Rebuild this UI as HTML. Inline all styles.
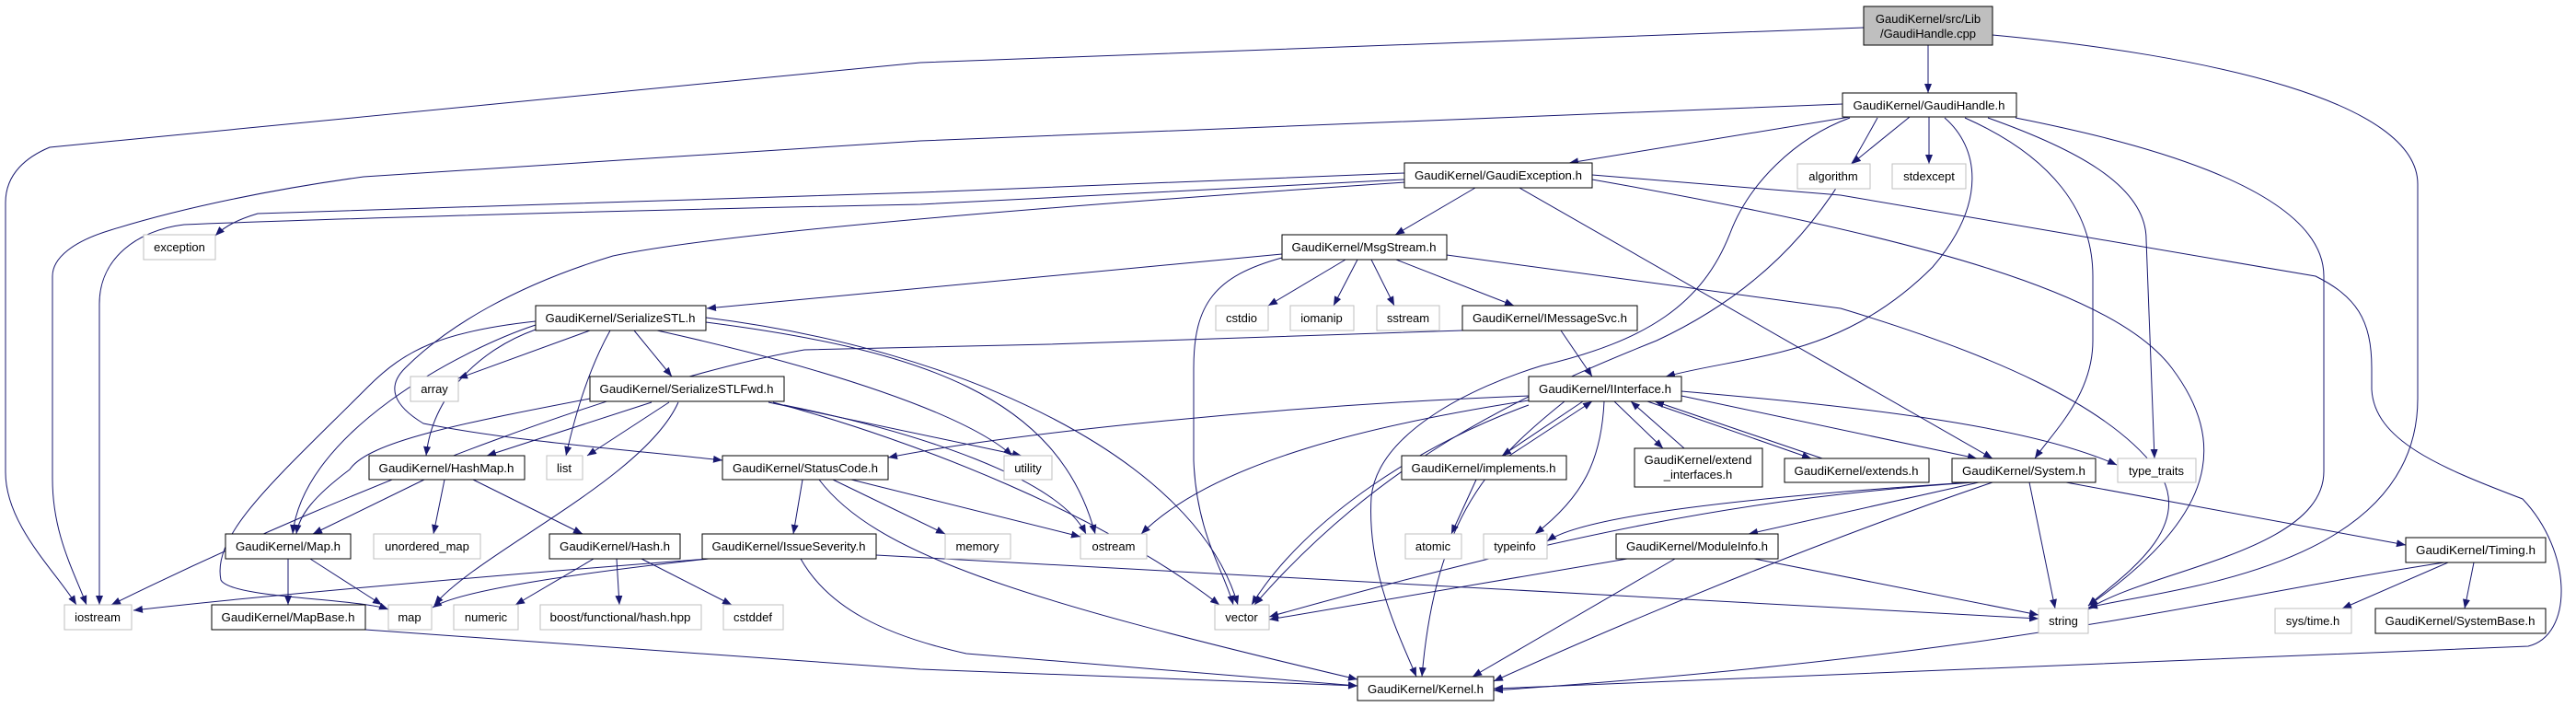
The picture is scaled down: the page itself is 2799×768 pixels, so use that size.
<!DOCTYPE html>
<html><head><meta charset="utf-8"><style>
html,body{margin:0;padding:0;background:#fff;}
svg{display:block;}
text{font-family:"Liberation Sans",Arial,sans-serif;font-size:13px;fill:#000;}
.e{fill:none;stroke:#191970;stroke-width:1;marker-end:url(#a);}
.n{fill:#fff;stroke:#000;stroke-width:1;}
.g{fill:#fff;stroke:#bfbfbf;stroke-width:1;}
</style></head><body>
<svg width="2799" height="768" viewBox="0 0 2799 768" xmlns="http://www.w3.org/2000/svg">
<defs><marker id="a" markerUnits="userSpaceOnUse" markerWidth="11" markerHeight="9" refX="10" refY="4" orient="auto"><path d="M0,0 L10,4 L0,8 z" fill="#191970"/></marker></defs>
<g>
<path class="e" d="M2095,49 L2095,101"/>
<path class="e" d="M2025,30 L1000,68 L54,160 C30,170 6,188 6,220 L6,513 C6,570 60,620 83,657"/>
<path class="e" d="M2165,38 C2400,60 2627,110 2627,200 L2627,433 C2627,620 2350,640 2269,660"/>
<path class="e" d="M2010,127 L1705,177"/>
<path class="e" d="M2002,113 L1000,153 L395,192 C300,205 200,225 120,250 C80,262 57,280 57,300 L57,520 C57,580 80,620 94,657"/>
<path class="e" d="M2075,127 L2012,178"/>
<path class="e" d="M2096,127 L2096,178"/>
<path class="e" d="M2113,128 C2150,160 2160,220 2100,290 C2000,390 1900,385 1810,409"/>
<path class="e" d="M2135,128 C2230,170 2274,230 2274,300 L2274,370 C2274,430 2230,470 2211,498"/>
<path class="e" d="M2160,128 C2250,160 2332,200 2332,260 L2341,498"/>
<path class="e" d="M2190,128 C2300,150 2525,200 2525,300 L2525,512 C2525,600 2330,620 2269,662"/>
<path class="e" d="M2010,128 C1950,150 1900,200 1880,253 C1850,330 1790,370 1676,397 C1600,420 1497,470 1490,540 C1485,620 1520,690 1539,735"/>
<path class="e" d="M2040,128 C2000,200 1950,300 1800,370 C1650,430 1500,500 1363,657"/>
<path class="e" d="M1603,204 L1516,255"/>
<path class="e" d="M1526,188 L1000,209 L280,232 C260,238 245,245 234,256"/>
<path class="e" d="M1526,195 L1000,222 C600,230 300,240 200,244 C150,250 108,280 108,330 L108,657"/>
<path class="e" d="M1526,198 C1200,220 800,250 666,278 C560,310 485,355 440,400 C420,420 427,440 460,460 C560,480 700,490 785,500"/>
<path class="e" d="M1651,204 L2165,498"/>
<path class="e" d="M1730,195 C2100,260 2300,320 2360,400 C2420,480 2410,560 2269,658"/>
<path class="e" d="M1730,190 L2000,212 L2516,300 C2560,322 2577,347 2577,400 L2577,423 C2580,478 2649,507 2741,542 C2796,600 2796,690 2747,702 L1623,748"/>
<path class="e" d="M1393,276 L768,335"/>
<path class="e" d="M1462,282 L1378,332"/>
<path class="e" d="M1475,282 L1449,332"/>
<path class="e" d="M1490,282 L1515,332"/>
<path class="e" d="M1517,282 L1645,332"/>
<path class="e" d="M1393,280 C1320,300 1297,330 1297,400 L1297,500 C1300,580 1330,620 1340,657"/>
<path class="e" d="M1572,277 L2000,335 C2150,380 2300,440 2350,520 C2380,580 2300,630 2269,658"/>
<path class="e" d="M1696,359 L1730,409"/>
<path class="e" d="M1589,359 L1140,374 L874,380 C700,410 400,520 121,657"/>
<path class="e" d="M641,359 L498,411"/>
<path class="e" d="M663,359 C640,400 625,450 615,495"/>
<path class="e" d="M689,359 L730,409"/>
<path class="e" d="M714,359 C900,400 1050,450 1100,495"/>
<path class="e" d="M767,350 C1000,380 1150,430 1190,580"/>
<path class="e" d="M767,345 C1050,380 1300,500 1345,657"/>
<path class="e" d="M582,358 C520,380 470,430 463,495"/>
<path class="e" d="M582,353 C500,380 330,470 318,580"/>
<path class="e" d="M582,349 C480,360 440,380 400,420 C300,520 230,580 240,630 C250,650 390,650 422,662"/>
<path class="e" d="M708,437 L529,495"/>
<path class="e" d="M727,437 L638,495"/>
<path class="e" d="M737,437 C700,520 520,600 472,657"/>
<path class="e" d="M641,433 C500,460 400,480 380,510 C340,540 325,560 322,580"/>
<path class="e" d="M835,437 L1110,495"/>
<path class="e" d="M852,440 C1000,470 1150,520 1180,580"/>
<path class="e" d="M840,437 C1000,480 1200,560 1325,657"/>
<path class="e" d="M461,521 L340,580"/>
<path class="e" d="M483,521 L471,580"/>
<path class="e" d="M514,521 L633,580"/>
<path class="e" d="M313,607 L313,657"/>
<path class="e" d="M337,607 L415,657"/>
<path class="e" d="M397,684 L1000,727 L1475,745"/>
<path class="e" d="M645,607 L560,657"/>
<path class="e" d="M670,607 L673,657"/>
<path class="e" d="M697,607 L795,657"/>
<path class="e" d="M769,607 C600,620 300,645 145,663"/>
<path class="e" d="M770,607 C650,620 500,640 470,660"/>
<path class="e" d="M952,603 L2215,672"/>
<path class="e" d="M870,607 C900,660 960,690 1050,710 L1475,745"/>
<path class="e" d="M872,521 L862,580"/>
<path class="e" d="M905,521 L1027,580"/>
<path class="e" d="M925,521 L1174,583"/>
<path class="e" d="M890,521 C950,600 1100,650 1475,738"/>
<path class="e" d="M1661,430 C1400,440 1100,470 965,497"/>
<path class="e" d="M1661,435 C1500,460 1320,500 1240,580"/>
<path class="e" d="M1700,436 C1620,500 1560,560 1545,735"/>
<path class="e" d="M1661,440 C1550,480 1420,560 1360,657"/>
<path class="e" d="M1720,436 L1632,495"/>
<path class="e" d="M1640,495 L1730,436"/>
<path class="e" d="M1743,436 C1740,500 1720,540 1668,580"/>
<path class="e" d="M1754,436 L1807,487"/>
<path class="e" d="M1830,487 L1772,436"/>
<path class="e" d="M1790,436 L1968,498"/>
<path class="e" d="M1980,498 L1798,436"/>
<path class="e" d="M1827,430 L2148,498"/>
<path class="e" d="M1827,425 C2000,440 2200,460 2300,505"/>
<path class="e" d="M1604,521 L1577,580"/>
<path class="e" d="M2140,524 C1900,540 1720,560 1681,588"/>
<path class="e" d="M2150,524 L1900,580"/>
<path class="e" d="M2145,524 C1900,540 1700,580 1379,670"/>
<path class="e" d="M2205,524 L2233,661"/>
<path class="e" d="M2165,524 C2000,580 1800,660 1623,740"/>
<path class="e" d="M2245,524 L2614,592"/>
<path class="e" d="M1768,607 L1379,673"/>
<path class="e" d="M1906,607 L2215,668"/>
<path class="e" d="M1820,607 L1600,735"/>
<path class="e" d="M2656,611 C2400,650 2200,710 1623,750"/>
<path class="e" d="M2660,611 L2545,661"/>
<path class="e" d="M2688,611 L2678,661"/>
</g>
<g>
<rect x="2025" y="7" width="140" height="42" fill="#bfbfbf" stroke="#000"/>
<text x="2095" y="25" text-anchor="middle">GaudiKernel/src/Lib</text>
<text x="2095" y="41" text-anchor="middle">/GaudiHandle.cpp</text>
<rect class="n" x="2002" y="101" width="189" height="26"/><text x="2096" y="119" text-anchor="middle" textLength="165" lengthAdjust="spacingAndGlyphs">GaudiKernel/GaudiHandle.h</text>
<rect class="n" x="1526" y="177" width="204" height="27"/><text x="1628" y="195" text-anchor="middle" textLength="182" lengthAdjust="spacingAndGlyphs">GaudiKernel/GaudiException.h</text>
<rect class="g" x="1953" y="178" width="79" height="27"/><text x="1992" y="196" text-anchor="middle">algorithm</text>
<rect class="g" x="2056" y="178" width="80" height="27"/><text x="2096" y="196" text-anchor="middle">stdexcept</text>
<rect class="g" x="156" y="255" width="78" height="27"/><text x="195" y="273" text-anchor="middle">exception</text>
<rect class="n" x="1393" y="255" width="179" height="27"/><text x="1482" y="273" text-anchor="middle" textLength="157" lengthAdjust="spacingAndGlyphs">GaudiKernel/MsgStream.h</text>
<rect class="n" x="582" y="332" width="185" height="27"/><text x="674" y="350" text-anchor="middle" textLength="163" lengthAdjust="spacingAndGlyphs">GaudiKernel/SerializeSTL.h</text>
<rect class="g" x="1321" y="332" width="57" height="27"/><text x="1349" y="350" text-anchor="middle">cstdio</text>
<rect class="g" x="1402" y="332" width="69" height="27"/><text x="1436" y="350" text-anchor="middle">iomanip</text>
<rect class="g" x="1496" y="332" width="68" height="27"/><text x="1530" y="350" text-anchor="middle">sstream</text>
<rect class="n" x="1589" y="332" width="190" height="27"/><text x="1684" y="350" text-anchor="middle" textLength="168" lengthAdjust="spacingAndGlyphs">GaudiKernel/IMessageSvc.h</text>
<rect class="g" x="446" y="409" width="52" height="27"/><text x="472" y="427" text-anchor="middle">array</text>
<rect class="n" x="641" y="409" width="211" height="27"/><text x="746" y="427" text-anchor="middle" textLength="189" lengthAdjust="spacingAndGlyphs">GaudiKernel/SerializeSTLFwd.h</text>
<rect class="n" x="1661" y="409" width="166" height="27"/><text x="1744" y="427" text-anchor="middle" textLength="144" lengthAdjust="spacingAndGlyphs">GaudiKernel/IInterface.h</text>
<rect class="n" x="401" y="495" width="169" height="26"/><text x="485" y="513" text-anchor="middle" textLength="147" lengthAdjust="spacingAndGlyphs">GaudiKernel/HashMap.h</text>
<rect class="g" x="594" y="495" width="39" height="26"/><text x="613" y="513" text-anchor="middle">list</text>
<rect class="n" x="785" y="495" width="180" height="26"/><text x="875" y="513" text-anchor="middle" textLength="158" lengthAdjust="spacingAndGlyphs">GaudiKernel/StatusCode.h</text>
<rect class="g" x="1091" y="495" width="52" height="26"/><text x="1117" y="513" text-anchor="middle">utility</text>
<rect class="n" x="1523" y="495" width="179" height="26"/><text x="1612" y="513" text-anchor="middle" textLength="157" lengthAdjust="spacingAndGlyphs">GaudiKernel/implements.h</text>
<rect class="n" x="1776" y="487" width="139" height="42"/><text x="1845" y="504" text-anchor="middle" textLength="117" lengthAdjust="spacingAndGlyphs">GaudiKernel/extend</text><text x="1845" y="520" text-anchor="middle">_interfaces.h</text>
<rect class="n" x="1939" y="498" width="157" height="26"/><text x="2017" y="516" text-anchor="middle" textLength="135" lengthAdjust="spacingAndGlyphs">GaudiKernel/extends.h</text>
<rect class="n" x="2121" y="498" width="156" height="26"/><text x="2199" y="516" text-anchor="middle" textLength="134" lengthAdjust="spacingAndGlyphs">GaudiKernel/System.h</text>
<rect class="g" x="2301" y="498" width="85" height="26"/><text x="2343" y="516" text-anchor="middle">type_traits</text>
<rect class="n" x="245" y="580" width="136" height="27"/><text x="313" y="598" text-anchor="middle" textLength="114" lengthAdjust="spacingAndGlyphs">GaudiKernel/Map.h</text>
<rect class="g" x="406" y="580" width="116" height="27"/><text x="464" y="598" text-anchor="middle">unordered_map</text>
<rect class="n" x="597" y="580" width="142" height="27"/><text x="668" y="598" text-anchor="middle" textLength="120" lengthAdjust="spacingAndGlyphs">GaudiKernel/Hash.h</text>
<rect class="n" x="763" y="580" width="189" height="27"/><text x="857" y="598" text-anchor="middle" textLength="167" lengthAdjust="spacingAndGlyphs">GaudiKernel/IssueSeverity.h</text>
<rect class="g" x="1027" y="580" width="71" height="27"/><text x="1062" y="598" text-anchor="middle">memory</text>
<rect class="g" x="1174" y="580" width="72" height="27"/><text x="1210" y="598" text-anchor="middle">ostream</text>
<rect class="g" x="1527" y="580" width="61" height="27"/><text x="1557" y="598" text-anchor="middle">atomic</text>
<rect class="g" x="1612" y="580" width="69" height="27"/><text x="1646" y="598" text-anchor="middle">typeinfo</text>
<rect class="n" x="1756" y="580" width="176" height="27"/><text x="1844" y="598" text-anchor="middle" textLength="154" lengthAdjust="spacingAndGlyphs">GaudiKernel/ModuleInfo.h</text>
<rect class="n" x="2614" y="584" width="152" height="27"/><text x="2690" y="602" text-anchor="middle" textLength="130" lengthAdjust="spacingAndGlyphs">GaudiKernel/Timing.h</text>
<rect class="g" x="70" y="657" width="73" height="27"/><text x="106" y="675" text-anchor="middle">iostream</text>
<rect class="n" x="230" y="657" width="167" height="27"/><text x="313" y="675" text-anchor="middle" textLength="145" lengthAdjust="spacingAndGlyphs">GaudiKernel/MapBase.h</text>
<rect class="g" x="422" y="657" width="47" height="27"/><text x="445" y="675" text-anchor="middle">map</text>
<rect class="g" x="493" y="657" width="70" height="27"/><text x="528" y="675" text-anchor="middle">numeric</text>
<rect class="g" x="587" y="657" width="175" height="27"/><text x="674" y="675" text-anchor="middle" textLength="153" lengthAdjust="spacingAndGlyphs">boost/functional/hash.hpp</text>
<rect class="g" x="786" y="657" width="65" height="27"/><text x="818" y="675" text-anchor="middle">cstddef</text>
<rect class="g" x="1320" y="657" width="59" height="27"/><text x="1349" y="675" text-anchor="middle">vector</text>
<rect class="g" x="2215" y="661" width="54" height="27"/><text x="2242" y="679" text-anchor="middle">string</text>
<rect class="g" x="2472" y="661" width="83" height="27"/><text x="2513" y="679" text-anchor="middle">sys/time.h</text>
<rect class="n" x="2581" y="661" width="185" height="27"/><text x="2673" y="679" text-anchor="middle" textLength="163" lengthAdjust="spacingAndGlyphs">GaudiKernel/SystemBase.h</text>
<rect class="n" x="1475" y="735" width="148" height="26"/><text x="1549" y="753" text-anchor="middle" textLength="126" lengthAdjust="spacingAndGlyphs">GaudiKernel/Kernel.h</text>
</g>
</svg>
</body></html>
